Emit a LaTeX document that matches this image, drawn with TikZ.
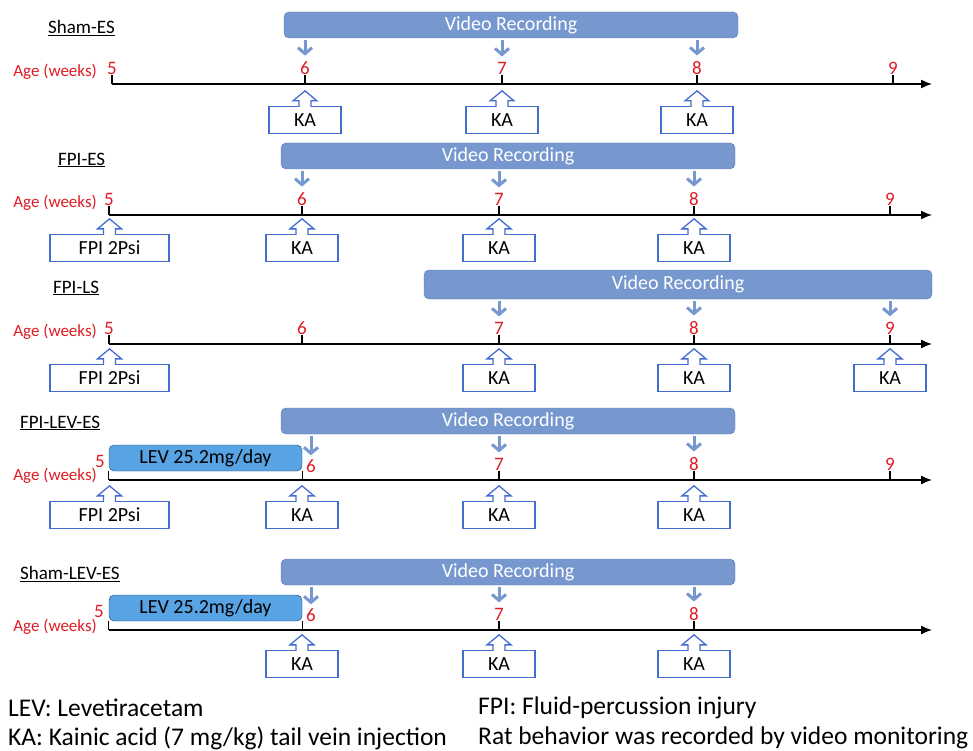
\documentclass[tikz,border=0pt]{standalone}
\usepackage{fontspec}
\setmainfont{Carlito}
\usetikzlibrary{arrows.meta}

\definecolor{vrblue}{RGB}{118,152,206}
\definecolor{vredge}{RGB}{90,125,185}
\definecolor{kablue}{RGB}{68,108,208}
\definecolor{levblue}{RGB}{88,163,228}
\definecolor{levedge}{RGB}{45,70,110}
\definecolor{agered}{RGB}{222,28,36}

\tikzset{
  group/.style={anchor=west, inner sep=0pt, font=\fontsize{19}{19}\selectfont},
  vr/.style={draw=vredge, fill=vrblue, rounded corners=5pt, text=white, minimum height=26pt, inner sep=0pt, font=\fontsize{20}{20}\selectfont},
  lev/.style={draw=levedge, fill=levblue, rounded corners=5pt, minimum width=193pt, minimum height=26pt, inner sep=0pt, font=\fontsize{20}{20}\selectfont},
  wk/.style={text=agered, inner sep=0pt, font=\fontsize{19}{19}\selectfont},
  age/.style={text=agered, anchor=east, inner sep=0pt, font=\fontsize{17}{17}\selectfont},
  inj/.style={draw=kablue, line width=1.3pt, minimum width=72pt, minimum height=27pt, inner sep=0pt, font=\fontsize{20}{20}\selectfont},
  callout/.style={draw=kablue, line width=1.3pt, fill=white},
  down/.style={draw=vrblue, line width=3pt, -{Straight Barb[length=6pt,width=14pt]}, shorten <=2pt, shorten >=6pt},
  axis/.style={line width=1.4pt, -{Latex[length=11pt,width=9pt]}},
  tick/.style={line width=1.3pt},
  note/.style={anchor=west, inner sep=0pt, font=\fontsize{25.5}{25.5}\selectfont}
}

% open block arrow on top of an injection box
\newcommand{\kacall}[1]{\filldraw[callout] ([xshift=-6pt,yshift=-1pt]#1.north) -- ++(0,-6) -- ++(-6,0) -- ++(12,-10) -- ++(12,10) -- ++(-6,0) -- ++(0,6);}

\begin{document}
\begin{tikzpicture}[x=1pt,y=-1pt]
\useasboundingbox (0,0) rectangle (973,751);

% Sham-ES
\node[group] (p1name) at (48,28) {\underline{Sham-ES}};
\node[vr,minimum width=454pt] (p1vr) at (511,25) {Video Recording};
\node[age] (p1age) at (97,72) {Age (weeks)};
\coordinate (p1ax) at (112,84);
\coordinate (p1end) at (932,84);
\node[wk,anchor=south] (p1w5) at (112,75) {5};
\node[wk,anchor=south] (p1w6) at (305,75) {6};
\node[wk,anchor=south] (p1w7) at (502,75) {7};
\node[wk,anchor=south] (p1w8) at (697,75) {8};
\node[wk,anchor=south] (p1w9) at (893,75) {9};
\draw[axis] (p1ax) -- (p1end);
\draw[tick] (p1w5.south) -- (p1w5.south |- p1ax);
\draw[tick] (p1w6.south) -- (p1w6.south |- p1ax);
\draw[tick] (p1w7.south) -- (p1w7.south |- p1ax);
\draw[tick] (p1w8.south) -- (p1w8.south |- p1ax);
\draw[tick] (p1w9.south) -- (p1w9.south |- p1ax);
\draw[down] (p1vr.south -| p1w6) -- (p1w6.north);
\draw[down] (p1vr.south -| p1w7) -- (p1w7.north);
\draw[down] (p1vr.south -| p1w8) -- (p1w8.north);
\node[inj] (p1ka6) at (305,120) {KA};
\node[inj] (p1ka7) at (502,120) {KA};
\node[inj] (p1ka8) at (697,120) {KA};
\kacall{p1ka6} \kacall{p1ka7} \kacall{p1ka8}

% FPI-ES
\node[group] (p2name) at (58,160) {\underline{FPI-ES}};
\node[vr,minimum width=454pt] (p2vr) at (508,156) {Video Recording};
\node[age] (p2age) at (97,203) {Age (weeks)};
\coordinate (p2ax) at (109,215);
\coordinate (p2end) at (932,215);
\node[wk,anchor=south] (p2w5) at (109,206) {5};
\node[wk,anchor=south] (p2w6) at (302,206) {6};
\node[wk,anchor=south] (p2w7) at (499,206) {7};
\node[wk,anchor=south] (p2w8) at (694,206) {8};
\node[wk,anchor=south] (p2w9) at (890,206) {9};
\draw[axis] (p2ax) -- (p2end);
\draw[tick] (p2w5.south) -- (p2w5.south |- p2ax);
\draw[tick] (p2w6.south) -- (p2w6.south |- p2ax);
\draw[tick] (p2w7.south) -- (p2w7.south |- p2ax);
\draw[tick] (p2w8.south) -- (p2w8.south |- p2ax);
\draw[tick] (p2w9.south) -- (p2w9.south |- p2ax);
\draw[down] (p2vr.south -| p2w6) -- (p2w6.north);
\draw[down] (p2vr.south -| p2w7) -- (p2w7.north);
\draw[down] (p2vr.south -| p2w8) -- (p2w8.north);
\node[inj,minimum width=119pt] (p2fpi) at (109.5,248) {FPI 2Psi};
\node[inj] (p2ka6) at (302,248) {KA};
\node[inj] (p2ka7) at (499,248) {KA};
\node[inj] (p2ka8) at (694,248) {KA};
\kacall{p2fpi} \kacall{p2ka6} \kacall{p2ka7} \kacall{p2ka8}

% FPI-LS
\node[group] (p3name) at (53,288) {\underline{FPI-LS}};
\node[vr,minimum width=508pt,minimum height=29pt] (p3vr) at (678,284.5) {Video Recording};
\node[age] (p3age) at (97,332) {Age (weeks)};
\coordinate (p3ax) at (109,344);
\coordinate (p3end) at (932,344);
\node[wk,anchor=south] (p3w5) at (109,335) {5};
\node[wk,anchor=south] (p3w6) at (302,335) {6};
\node[wk,anchor=south] (p3w7) at (499,335) {7};
\node[wk,anchor=south] (p3w8) at (694,335) {8};
\node[wk,anchor=south] (p3w9) at (890,335) {9};
\draw[axis] (p3ax) -- (p3end);
\draw[tick] (p3w5.south) -- (p3w5.south |- p3ax);
\draw[tick] (p3w6.south) -- (p3w6.south |- p3ax);
\draw[tick] (p3w7.south) -- (p3w7.south |- p3ax);
\draw[tick] (p3w8.south) -- (p3w8.south |- p3ax);
\draw[tick] (p3w9.south) -- (p3w9.south |- p3ax);
\draw[down] (p3vr.south -| p3w7) -- (p3w7.north);
\draw[down] (p3vr.south -| p3w8) -- (p3w8.north);
\draw[down] (p3vr.south -| p3w9) -- (p3w9.north);
\node[inj,minimum width=119pt] (p3fpi) at (109.5,378) {FPI 2Psi};
\node[inj] (p3ka7) at (499,378) {KA};
\node[inj] (p3ka8) at (694,378) {KA};
\node[inj] (p3ka9) at (890,378) {KA};
\kacall{p3fpi} \kacall{p3ka7} \kacall{p3ka8} \kacall{p3ka9}

% FPI-LEV-ES
\node[group] (p4name) at (20,423) {\underline{FPI-LEV-ES}};
\node[vr,minimum width=454pt] (p4vr) at (508,421) {Video Recording};
\node[lev] (p4lev) at (205.5,458) {LEV 25.2mg/day};
\node[age] (p4age) at (97,476) {Age (weeks)};
\coordinate (p4ax) at (109,480);
\coordinate (p4end) at (932,480);
\node[wk,anchor=east] (p4w5) at (105,461) {5};
\node[wk] (p4w6) at (311,466) {6};
\node[wk,anchor=south] (p4w7) at (499,471) {7};
\node[wk,anchor=south] (p4w8) at (694,471) {8};
\node[wk,anchor=south] (p4w9) at (890,471) {9};
\draw[axis] (p4ax) -- (p4end);
\draw[tick] (p4lev.south west) -- (p4lev.south west |- p4ax);
\draw[tick] (p4lev.south east) -- (p4lev.south east |- p4ax);
\draw[tick] (p4w7.south) -- (p4w7.south |- p4ax);
\draw[tick] (p4w8.south) -- (p4w8.south |- p4ax);
\draw[tick] (p4w9.south) -- (p4w9.south |- p4ax);
\draw[down,shorten >=4pt] (p4vr.south -| p4w6) -- (p4w6.north);
\draw[down] (p4vr.south -| p4w7) -- (p4w7.north);
\draw[down] (p4vr.south -| p4w8) -- (p4w8.north);
\node[inj,minimum width=119pt] (p4fpi) at (109.5,515) {FPI 2Psi};
\node[inj] (p4ka6) at (302,515) {KA};
\node[inj] (p4ka7) at (499,515) {KA};
\node[inj] (p4ka8) at (694,515) {KA};
\kacall{p4fpi} \kacall{p4ka6} \kacall{p4ka7} \kacall{p4ka8}

% Sham-LEV-ES
\node[group] (p5name) at (20,574) {\underline{Sham-LEV-ES}};
\node[vr,minimum width=454pt] (p5vr) at (508,572) {Video Recording};
\node[lev] (p5lev) at (205.5,608) {LEV 25.2mg/day};
\node[age] (p5age) at (97,627) {Age (weeks)};
\coordinate (p5ax) at (109,630);
\coordinate (p5end) at (932,630);
\node[wk,anchor=east] (p5w5) at (104,611) {5};
\node[wk] (p5w6) at (311,615) {6};
\node[wk,anchor=south] (p5w7) at (499,621) {7};
\node[wk,anchor=south] (p5w8) at (694,621) {8};
\draw[axis] (p5ax) -- (p5end);
\draw[tick] (p5lev.south west) -- (p5lev.south west |- p5ax);
\draw[tick] (p5lev.south east) -- (p5lev.south east |- p5ax);
\draw[tick] (p5w7.south) -- (p5w7.south |- p5ax);
\draw[tick] (p5w8.south) -- (p5w8.south |- p5ax);
\draw[down,shorten >=4pt] (p5vr.south -| p5w6) -- (p5w6.north);
\draw[down] (p5vr.south -| p5w7) -- (p5w7.north);
\draw[down] (p5vr.south -| p5w8) -- (p5w8.north);
\node[inj] (p5ka6) at (302,664) {KA};
\node[inj] (p5ka7) at (499,664) {KA};
\node[inj] (p5ka8) at (694,664) {KA};
\kacall{p5ka6} \kacall{p5ka7} \kacall{p5ka8}

% legend
\node[note] (levnote) at (8,708) {LEV: Levetiracetam};
\node[note] (kanote) at (8,738) {KA: Kainic acid (7 mg/kg) tail vein injection};
\node[note] (fpinote) at (478,708) {FPI: Fluid-percussion injury};
\node[note] (vrnote) at (478,738) {Rat behavior was recorded by video monitoring};
\end{tikzpicture}
\end{document}
